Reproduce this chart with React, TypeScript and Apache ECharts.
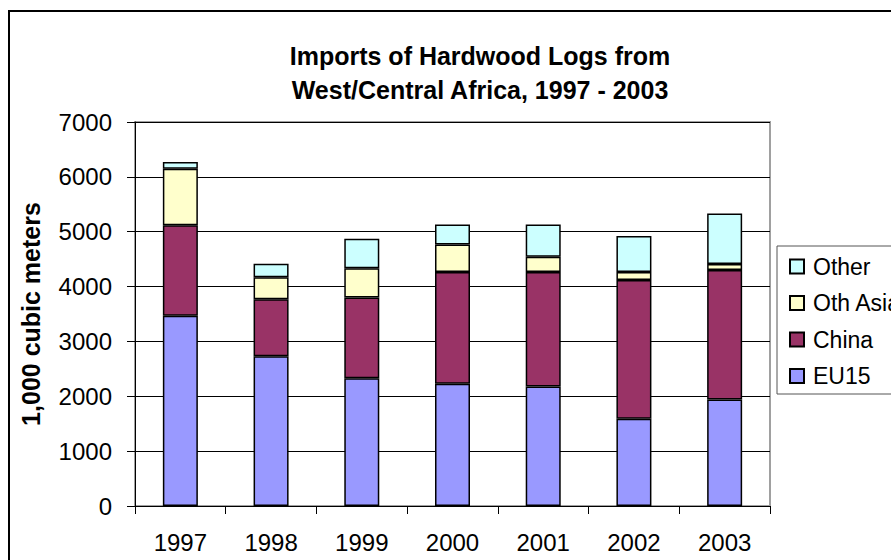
import React, { useEffect, useRef } from "react";
import * as echarts from "echarts";

const years = ["1997", "1998", "1999", "2000", "2001", "2002", "2003"];
const eu15 = [3470, 2730, 2330, 2230, 2180, 1590, 1940];
const china = [1650, 1040, 1470, 2035, 2085, 2530, 2360];
const othAsia = [1030, 400, 535, 500, 280, 145, 110];
const other = [120, 245, 535, 365, 585, 655, 920];
const legendOrder = ["Other", "Oth Asia", "China", "EU15"];
const titleText = "Imports of Hardwood Logs from\nWest/Central Africa, 1997 - 2003";
const yName = "1,000 cubic meters";

const FONT = "'Liberation Sans', Arial, sans-serif";

export default function App() {
  const ref = useRef<HTMLDivElement>(null);
  useEffect(() => {
    if (!ref.current) return;
    const chart = echarts.init(ref.current, undefined, { renderer: "svg" });
    const mk = (name: string, data: number[], color: string) => ({
      name,
      type: "bar",
      stack: "total",
      data,
      barWidth: 35,
      itemStyle: { color, borderColor: "#000", borderWidth: 1.5 },
      emphasis: { disabled: true },
    });
    chart.setOption({
      animation: false,
      backgroundColor: "#fff",
      textStyle: { fontFamily: FONT },
      title: {
        text: titleText,
        left: 475,
        top: 34,
        textAlign: "center",
        textStyle: { fontFamily: FONT, fontSize: 25, fontWeight: "bold", color: "#000", lineHeight: 34 },
      },
      grid: {
        left: 135,
        top: 122,
        width: 635,
        height: 384,
        show: true,
        borderColor: "#a0a0a0",
        borderWidth: 2,
        backgroundColor: "transparent",
      },
      legend: {
        orient: "vertical",
        left: 784,
        top: 250,
        data: legendOrder.map((n) => ({ name: n, icon: "rect" })),
        itemWidth: 14,
        itemHeight: 14,
        itemGap: 13.5,
        textStyle: { fontFamily: FONT, fontSize: 23, color: "#000", lineHeight: 23, padding: [0, 0, 0, 4] },
        selectedMode: false,
      },
      xAxis: {
        type: "category",
        data: years,
        axisLine: { lineStyle: { color: "#000", width: 1 } },
        axisTick: { show: true, length: 8, lineStyle: { color: "#000" } },
        axisLabel: { fontFamily: FONT, fontSize: 24, color: "#000", margin: 24 },
      },
      yAxis: {
        type: "value",
        min: 0,
        max: 7000,
        interval: 1000,
        name: yName,
        nameLocation: "middle",
        nameGap: 92,
        nameTextStyle: { fontFamily: FONT, fontSize: 25, fontWeight: "bold", color: "#000" },
        axisLine: { show: true, lineStyle: { color: "#000", width: 1 } },
        axisTick: { show: true, length: 8, lineStyle: { color: "#000" } },
        axisLabel: { fontFamily: FONT, fontSize: 24, color: "#000", margin: 23, formatter: (v: number) => String(v) },
        splitLine: { show: true, lineStyle: { color: "#000", width: 1 } },
      },
      graphic: [
        {
          type: "rect",
          shape: { x: 9, y: 11, width: 1200, height: 1000 },
          style: { fill: "none", stroke: "#000", lineWidth: 2 },
          silent: true,
        },
        {
          type: "rect",
          shape: { x: 777, y: 246, width: 300, height: 148 },
          style: { fill: "none", stroke: "#555", lineWidth: 1 },
          silent: true,
        },
      ],
      series: [
        mk("EU15", eu15, "#9999FF"),
        mk("China", china, "#993366"),
        mk("Oth Asia", othAsia, "#FFFFCC"),
        mk("Other", other, "#CCFFFF"),
      ],
    });
    return () => chart.dispose();
  }, []);
  return <div ref={ref} style={{ position: "fixed", left: 0, top: 0, width: 891, height: 560 }} />;
}
